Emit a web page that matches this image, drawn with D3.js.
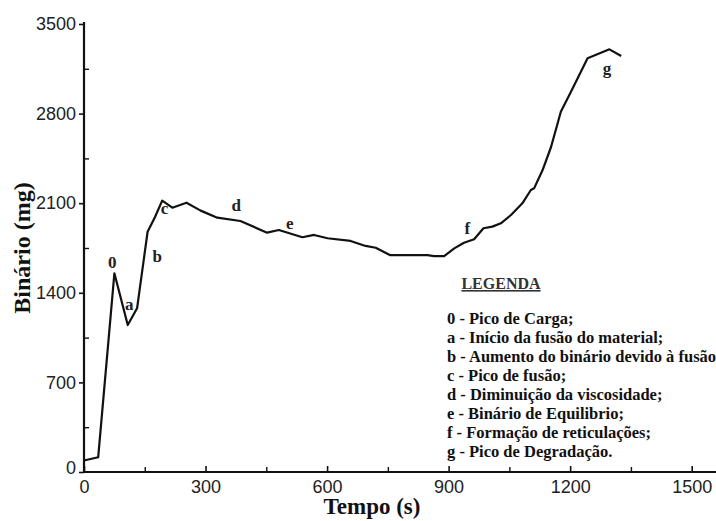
<!DOCTYPE html>
<html>
<head>
<meta charset="utf-8">
<script src="https://cdn.jsdelivr.net/npm/d3@7/dist/d3.min.js"></script>
<style>
  html, body { margin: 0; padding: 0; background: #fff; }
  svg { display: block; }
</style>
</head>
<body>
<svg id="chart" width="716" height="521"></svg>
<script>
// ---- data ----
const time = [0, 35, 75, 108, 131, 157, 175, 193, 218, 253, 288, 329, 386, 452, 481, 539, 568, 601, 658, 695, 720, 755, 848, 864, 889, 914, 938, 963, 986, 1008, 1029, 1054, 1082, 1103, 1111, 1132, 1153, 1177, 1202, 1243, 1297, 1326];
const torque = [90, 115, 1552, 1148, 1279, 1877, 1990, 2120, 2065, 2104, 2042, 1987, 1961, 1870, 1891, 1834, 1852, 1826, 1805, 1766, 1752, 1695, 1695, 1687, 1687, 1747, 1791, 1818, 1904, 1917, 1943, 2008, 2099, 2203, 2216, 2359, 2541, 2815, 2971, 3232, 3302, 3250];

const pointLabels = ["0", "a", "b", "c", "d", "e", "f", "g"];
const labelTime = [70, 112, 181, 199, 376, 508, 946, 1291];
const labelValue = [1640, 1312, 1687, 2062, 2086, 1943, 1904, 3154];

const xTicks = [0, 300, 600, 900, 1200, 1500];
const xMinorTicks = [150, 450, 750, 1050, 1350];
const yTicks = [0, 700, 1400, 2100, 2800, 3500];
const yMinorTicks = [350, 1050, 1750, 2450, 3150];

const legendTitle = "LEGENDA";
const legendItems = [
  "0 - Pico de Carga;",
  "a - Início da fusão do material;",
  "b - Aumento do binário devido à fusão",
  "c - Pico de fusão;",
  "d - Diminuição da viscosidade;",
  "e - Binário de Equilibrio;",
  "f - Formação de reticulações;",
  "g - Pico de Degradação."
];

const xTitle = "Tempo (s)";
const yTitle = "Binário (mg)";

// ---- layout ----
const svg = d3.select("#chart");
const mLeft = 84, mRight = 716, mTop = 24, mBottom = 472;

const x = d3.scaleLinear().domain([0, 1560]).range([mLeft, mRight]);
const y = d3.scaleLinear().domain([0, 3500]).range([mBottom, mTop]);

const sans = "'Liberation Sans', Arial, sans-serif";
const serif = "'Liberation Serif', 'Times New Roman', serif";

// x axis
const xAxis = svg.append("g").attr("transform", `translate(0,${mBottom})`);
xAxis.call(d3.axisBottom(x).tickValues(xTicks).tickSize(-6).tickFormat(d3.format("d")));
xAxis.select(".domain").remove();
xAxis.selectAll(".tick line").attr("stroke", "#111").attr("stroke-width", 1.6);
xAxis.selectAll(".tick text")
  .attr("y", 8).attr("dy", "0.71em")
  .attr("font-family", sans).attr("font-size", 18).attr("fill", "#222");
const xMinor = svg.append("g").attr("transform", `translate(0,${mBottom})`);
xMinor.call(d3.axisBottom(x).tickValues(xMinorTicks).tickSize(-5).tickFormat(""));
xMinor.select(".domain").remove();
xMinor.selectAll(".tick line").attr("stroke", "#111").attr("stroke-width", 1.4);

svg.append("line")
  .attr("x1", mLeft - 1).attr("x2", mRight).attr("y1", mBottom).attr("y2", mBottom)
  .attr("stroke", "#111").attr("stroke-width", 2.2);

// y axis
const yAxis = svg.append("g").attr("transform", `translate(${mLeft},0)`);
yAxis.call(d3.axisLeft(y).tickValues(yTicks).tickSize(5).tickPadding(3).tickFormat(d3.format("d")));
yAxis.select(".domain").remove();
yAxis.selectAll(".tick line").attr("stroke", "#111").attr("stroke-width", 1.6);
yAxis.selectAll(".tick text")
  .attr("font-family", sans).attr("font-size", 18).attr("fill", "#222");
yAxis.selectAll(".tick").filter(d => d === 0).select("text").attr("dy", "0.1em");
const yMinor = svg.append("g").attr("transform", `translate(${mLeft},0)`);
yMinor.call(d3.axisLeft(y).tickValues(yMinorTicks).tickSize(-5).tickFormat(""));
yMinor.select(".domain").remove();
yMinor.selectAll(".tick line").attr("stroke", "#111").attr("stroke-width", 1.4);

svg.append("line")
  .attr("x1", mLeft).attr("x2", mLeft).attr("y1", mTop - 2).attr("y2", mBottom + 1)
  .attr("stroke", "#111").attr("stroke-width", 2.2);

// axis titles
svg.append("text")
  .attr("x", 372).attr("y", 514)
  .attr("text-anchor", "middle")
  .attr("font-family", serif).attr("font-weight", "bold").attr("font-size", 23)
  .attr("fill", "#111")
  .text(xTitle);

svg.append("text")
  .attr("transform", `translate(30,248) rotate(-90)`)
  .attr("text-anchor", "middle")
  .attr("font-family", serif).attr("font-weight", "bold").attr("font-size", 24)
  .attr("fill", "#111")
  .text(yTitle);

// curve
const line = d3.line().x((d, i) => x(time[i])).y((d, i) => y(torque[i]));
svg.append("path")
  .attr("d", line(torque))
  .attr("fill", "none")
  .attr("stroke", "#111")
  .attr("stroke-width", 2.2)
  .attr("stroke-linejoin", "round");

// point labels
svg.append("g").selectAll("text")
  .data(pointLabels)
  .join("text")
  .attr("x", (d, i) => x(labelTime[i]))
  .attr("y", (d, i) => y(labelValue[i]))
  .attr("dy", "0.35em")
  .attr("text-anchor", "middle")
  .attr("font-family", serif).attr("font-weight", "bold").attr("font-size", 17)
  .attr("fill", "#222")
  .text(d => d);

// legend
const lg = svg.append("g");
lg.append("text")
  .attr("x", 501).attr("y", 289)
  .attr("text-anchor", "middle")
  .attr("font-family", serif).attr("font-weight", "bold").attr("font-size", 16)
  .attr("fill", "#333")
  .attr("text-decoration", "underline")
  .text(legendTitle);
lg.selectAll("text.item")
  .data(legendItems)
  .join("text")
  .attr("class", "item")
  .attr("x", 447)
  .attr("y", (d, i) => 324 + i * 19)
  .attr("font-family", serif).attr("font-weight", "bold").attr("font-size", 16.5)
  .attr("fill", "#111")
  .text(d => d);
</script>
</body>
</html>
